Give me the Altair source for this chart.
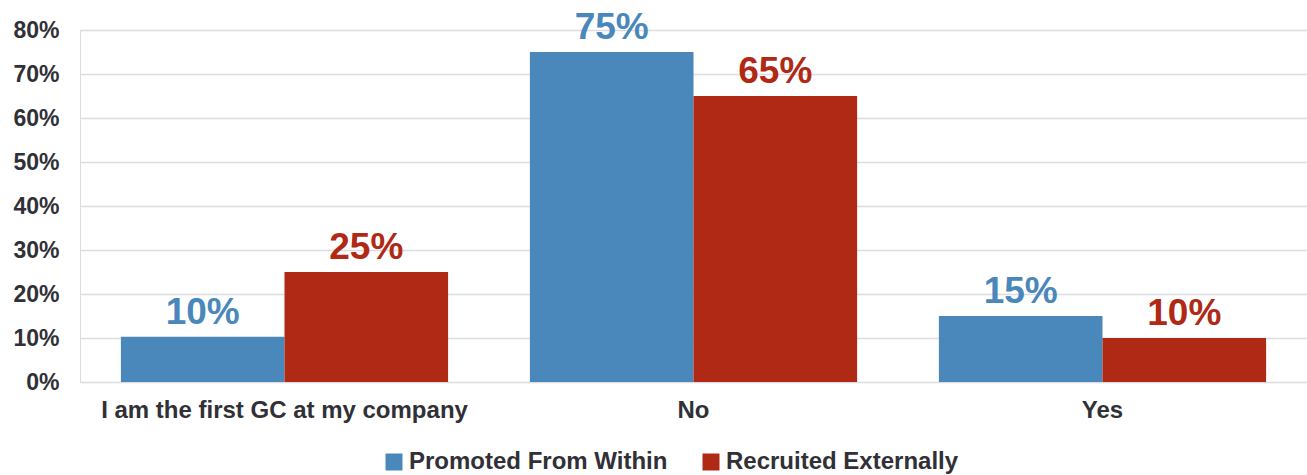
import altair as alt
import pandas as pd

categories = ["I am the first GC at my company", "No", "Yes"]
series = ["Promoted From Within", "Recruited Externally"]
promoted = [10.3, 75, 15]
recruited = [25, 65, 10]
colors = ["#4A88BB", "#B02914"]

rows = []
for i, c in enumerate(categories):
    rows.append({"cat": c, "series": series[0], "value": promoted[i], "label": f"{round(promoted[i])}%"})
    rows.append({"cat": c, "series": series[1], "value": recruited[i], "label": f"{round(recruited[i])}%"})
df = pd.DataFrame(rows)

FONT = "Liberation Sans"
TXT = "#303036"

x = alt.X("cat:N", sort=categories, title=None,
          scale=alt.Scale(paddingInner=0.2, paddingOuter=0.1),
          axis=alt.Axis(labelAngle=0, labelFont=FONT, labelFontSize=24, labelFontWeight="bold",
                        labelColor=TXT, ticks=False, domain=False, labelPadding=16, labelLimit=0))
y = alt.Y("value:Q", title=None,
          scale=alt.Scale(domain=[0, 80], nice=False),
          axis=alt.Axis(values=[0, 10, 20, 30, 40, 50, 60, 70, 80],
                        labelExpr="datum.value + '%'",
                        labelFont=FONT, labelFontSize=23, labelFontWeight="bold",
                        labelColor=TXT, ticks=False, domain=False, labelPadding=21,
                        grid=True, gridColor="#DCDCE1", gridWidth=1.5))
color = alt.Color("series:N", sort=series,
                  scale=alt.Scale(domain=series, range=colors),
                  legend=alt.Legend(title=None, orient="none", direction="horizontal",
                                    legendX=302, legendY=420,
                                    symbolType="square", symbolSize=289, symbolStrokeWidth=0,
                                    symbolOpacity=1,
                                    labelFont=FONT, labelFontSize=24, labelFontWeight="bold",
                                    labelColor=TXT, columnPadding=31, labelOffset=3, labelLimit=0))
xoff = alt.XOffset("series:N", sort=series, scale=alt.Scale(paddingInner=0, paddingOuter=0))

bars = alt.Chart(df).mark_bar(opacity=1).encode(x=x, y=y, color=color, xOffset=xoff)
texts = alt.Chart(df).mark_text(font=FONT, fontSize=37, fontWeight="bold", baseline="alphabetic",
                                dy=-13).encode(
    x=x, y=y, xOffset=xoff, text="label:N",
    color=alt.Color("series:N", sort=series, scale=alt.Scale(domain=series, range=colors), legend=None))

chart = alt.layer(bars, texts).properties(
    width=1227, height=352,
    autosize=alt.AutoSizeParams(type="none"),
    padding={"left": 80, "top": 30, "right": 0, "bottom": 93},
).configure_view(stroke=None).configure(background="white")

chart.save("out.html", embed_options={"renderer": "svg", "actions": False})
